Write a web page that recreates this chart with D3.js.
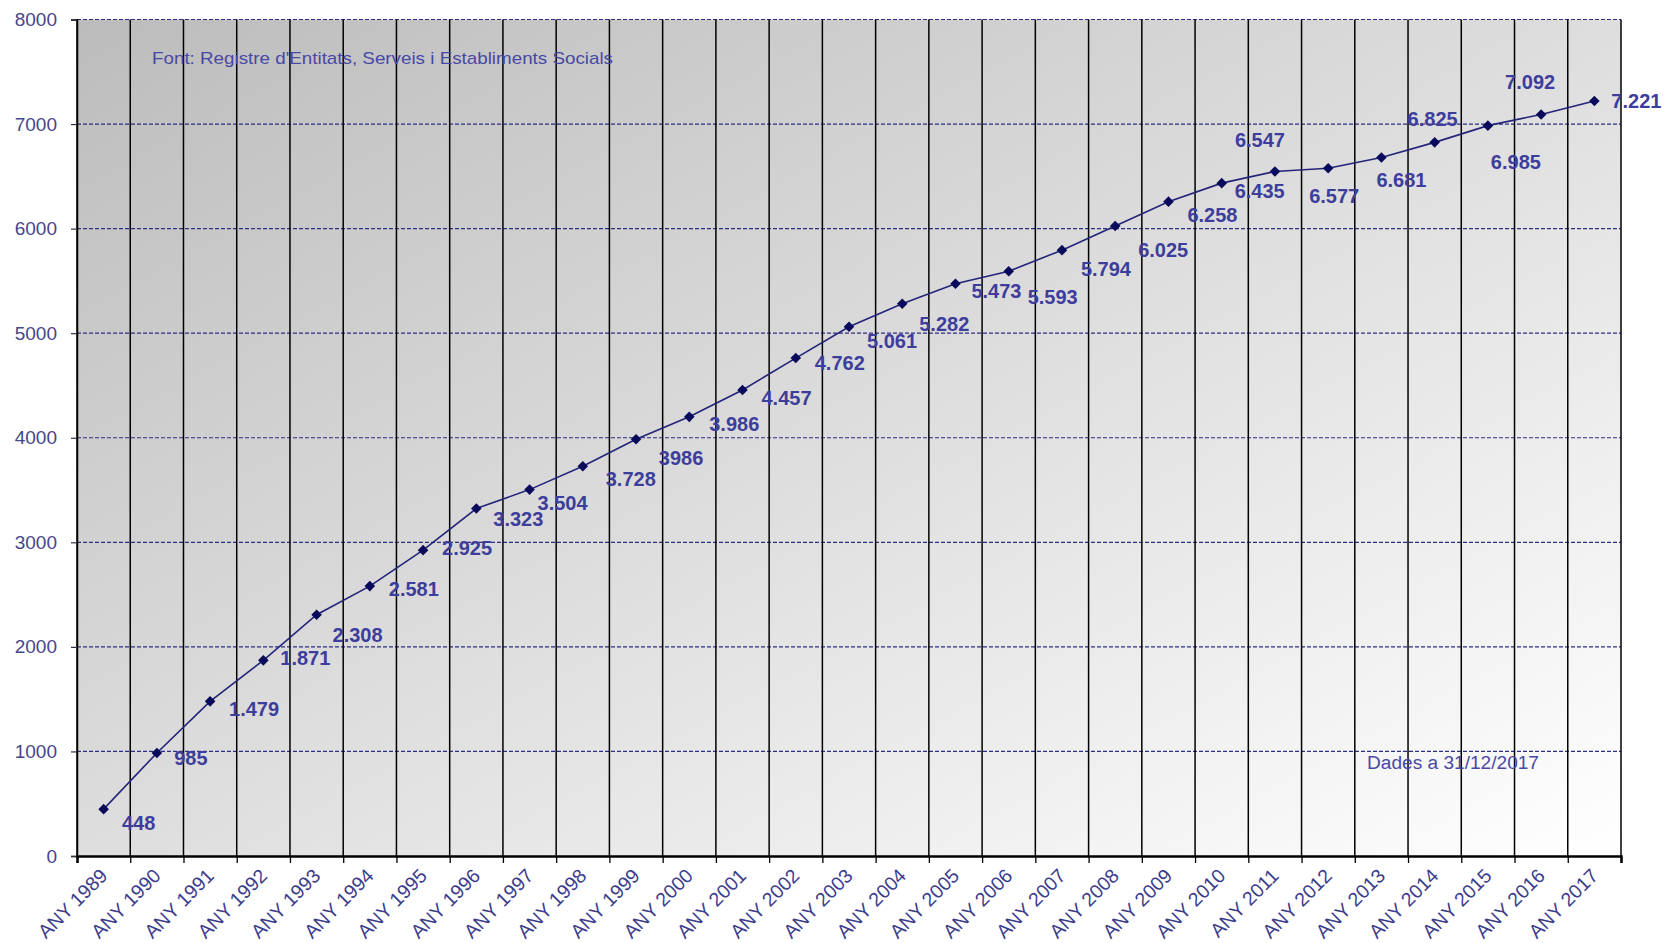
<!DOCTYPE html>
<html>
<head>
<meta charset="utf-8">
<script src="https://cdn.jsdelivr.net/npm/d3@7"></script>
<style>
  html, body { margin: 0; padding: 0; background: #ffffff; }
  svg { display: block; font-family: "Liberation Sans", Arial, sans-serif; }
</style>
</head>
<body>
<script>
// ---- Data ----
const years = ["ANY 1989","ANY 1990","ANY 1991","ANY 1992","ANY 1993","ANY 1994","ANY 1995","ANY 1996","ANY 1997","ANY 1998","ANY 1999","ANY 2000","ANY 2001","ANY 2002","ANY 2003","ANY 2004","ANY 2005","ANY 2006","ANY 2007","ANY 2008","ANY 2009","ANY 2010","ANY 2011","ANY 2012","ANY 2013","ANY 2014","ANY 2015","ANY 2016","ANY 2017"];
const values = [448, 985, 1479, 1871, 2308, 2581, 2925, 3323, 3504, 3728, 3986, 4200, 4457, 4762, 5061, 5282, 5473, 5593, 5794, 6025, 6258, 6435, 6547, 6577, 6681, 6825, 6985, 7092, 7221];
const labelTexts = ["448","985","1.479","1.871","2.308","2.581","2.925","3.323","3.504","3.728","3986","3.986","4.457","4.762","5.061","5.282","5.473","5.593","5.794","6.025","6.258","6.435","6.547","6.577","6.681","6.825","6.985","7.092","7.221"];
const yTicks = [0, 1000, 2000, 3000, 4000, 5000, 6000, 7000, 8000];
const sourceText = "Font: Registre d'Entitats, Serveis i Establiments Socials";
const dateText = "Dades a 31/12/2017";

// ---- Label placement (offset of each data label from its point, px) ----
const labelOffsets = [
  [35,14],[34,5],[44,8],[42,-2],[41,20],[44,3],[44,-2],[42,10],[33,13],[48,13],
  [45,19],[45,7],[44,8],[44,5],[43,14],[42,20],[41,7],[44,26],[44,19],[48,24],
  [44,13],[38,8],[-15,-31],[6,28],[20,23],[-2,-23],[28,36],[-11,-32],[42,0]
];

// ---- Layout ----
const W = 1666, H = 943;
const plotLeft = 77, plotRight = 1621, plotTop = 19.5, plotBottom = 856;

const svg = d3.select("body").append("svg").attr("width", W).attr("height", H);

const x = d3.scaleBand().domain(years).range([plotLeft, plotRight]).padding(0);
const y = d3.scaleLinear().domain([0, 8000]).range([plotBottom, plotTop]);
const bw = x.bandwidth();
const cx = (i) => x(years[i]) + bw / 2;

// Background gradient
const defs = svg.append("defs");
const grad = defs.append("linearGradient").attr("id", "bg")
  .attr("x1", 0).attr("y1", 0).attr("x2", 1).attr("y2", 1);
grad.append("stop").attr("offset", "0%").attr("stop-color", "#bcbcbc");
grad.append("stop").attr("offset", "100%").attr("stop-color", "#ffffff");

svg.append("rect")
  .attr("x", plotLeft).attr("y", y(8000))
  .attr("width", plotRight - plotLeft).attr("height", y(0) - y(8000))
  .attr("fill", "url(#bg)");

// Horizontal dashed gridlines
svg.append("g").selectAll("line")
  .data(yTicks.filter(d => d > 0))
  .join("line")
  .attr("x1", plotLeft).attr("x2", plotRight)
  .attr("y1", d => y(d)).attr("y2", d => y(d))
  .attr("stroke", "#2e2e80")
  .attr("stroke-width", 1.2)
  .attr("stroke-dasharray", "4,2");

// Vertical category boundary lines
const boundaries = years.map(d => x(d)).concat([plotRight]);
svg.append("g").selectAll("line")
  .data(boundaries)
  .join("line")
  .attr("x1", d => d).attr("x2", d => d)
  .attr("y1", y(8000)).attr("y2", y(0))
  .attr("stroke", "#000000")
  .attr("stroke-width", 1.5);

// Y axis
const yAxis = svg.append("g")
  .attr("transform", `translate(${plotLeft},0)`)
  .call(d3.axisLeft(y).tickValues(yTicks).tickSize(6).tickPadding(14).tickFormat(d3.format("d")));
yAxis.select(".domain").attr("stroke", "#000").attr("stroke-width", 1.5);
yAxis.selectAll(".tick line").attr("stroke", "#333").attr("stroke-width", 1.2);
yAxis.selectAll(".tick text")
  .attr("fill", "#46468a")
  .attr("font-size", 19)
  .attr("font-family", "'Liberation Sans', Arial, sans-serif");

// X axis: boundary ticks
const xb = d3.scaleLinear().domain([0, years.length]).range([plotLeft, plotRight]);
const xTicksAxis = svg.append("g")
  .attr("transform", `translate(0,${plotBottom})`)
  .call(d3.axisBottom(xb).tickValues(d3.range(years.length + 1)).tickSize(7).tickFormat(""));
xTicksAxis.select(".domain").attr("stroke", "#000").attr("stroke-width", 2.5);
xTicksAxis.selectAll(".tick line").attr("stroke", "#000").attr("stroke-width", 1.3);

// X axis: category labels
const xAxis = svg.append("g")
  .attr("transform", `translate(0,${plotBottom})`)
  .call(d3.axisBottom(x).tickSize(0));
xAxis.select(".domain").remove();
xAxis.selectAll(".tick text")
  .attr("x", 0).attr("y", 0).attr("dy", 0)
  .attr("text-anchor", "end")
  .attr("transform", "translate(5,21) rotate(-45)")
  .attr("fill", "#3c3c8c")
  .attr("font-size", 19.5)
  .attr("font-family", "'Liberation Sans', Arial, sans-serif");

// Line
const line = d3.line().x((d, i) => cx(i)).y(d => y(d));
svg.append("path")
  .datum(values)
  .attr("d", line)
  .attr("fill", "none")
  .attr("stroke", "#24247a")
  .attr("stroke-width", 1.6);

// Markers (diamonds)
const sym = d3.symbol().type(d3.symbolSquare).size(56);
svg.append("g").selectAll("path")
  .data(values)
  .join("path")
  .attr("d", sym)
  .attr("transform", (d, i) => `translate(${cx(i)},${y(d)}) rotate(45)`)
  .attr("fill", "#0a0a5c");

// Data labels
svg.append("g").selectAll("text")
  .data(values)
  .join("text")
  .attr("x", (d, i) => cx(i) + labelOffsets[i][0])
  .attr("y", (d, i) => y(d) + labelOffsets[i][1])
  .attr("text-anchor", "middle")
  .attr("dominant-baseline", "central")
  .attr("font-size", 20)
  .attr("font-weight", "bold")
  .attr("fill", "#3d3d9c")
  .text((d, i) => labelTexts[i]);

// Source note
svg.append("text")
  .attr("x", 152).attr("y", 64)
  .attr("font-size", 17)
  .attr("fill", "#4848a6")
  .attr("textLength", 461)
  .attr("lengthAdjust", "spacingAndGlyphs")
  .text(sourceText);

// Date note
svg.append("text")
  .attr("x", 1367).attr("y", 769)
  .attr("font-size", 18)
  .attr("fill", "#4848a6")
  .attr("textLength", 172)
  .attr("lengthAdjust", "spacingAndGlyphs")
  .text(dateText);
</script>
</body>
</html>
